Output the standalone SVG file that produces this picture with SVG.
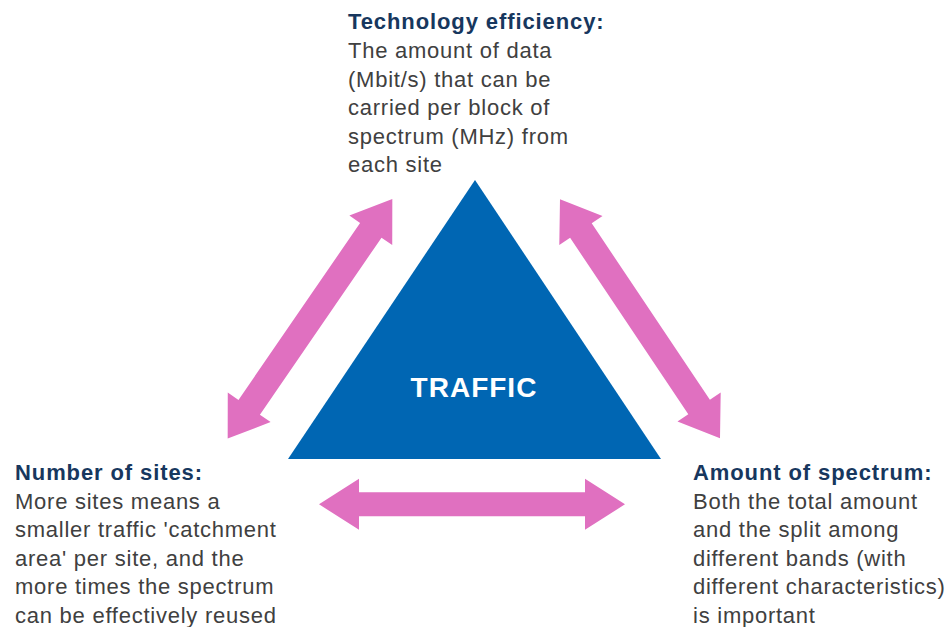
<svg xmlns="http://www.w3.org/2000/svg" width="948" height="627" viewBox="0 0 948 627">
<style>
.t{font-family:"Liberation Sans",Arial,sans-serif;font-size:22px;font-weight:bold;fill:#17375E;letter-spacing:0.9px}
.b{font-family:"Liberation Sans",Arial,sans-serif;font-size:22px;fill:#404040;letter-spacing:0.75px}
.arr{fill:#E070C0}
</style>
<defs>
<polygon id="dbl" points="-153,0 -113,-26 -113,-13 113,-13 113,-26 153,0 113,26 113,13 -113,13 -113,26"/>
<polygon id="dblh" points="-153,0 -113,-25.5 -113,-12 113,-12 113,-25.5 153,0 113,25.5 113,12 -113,12 -113,25.5"/>
</defs>
<rect width="948" height="627" fill="#FFFFFF"/>
<g id="traffic">
<polygon points="475,180 288,459 661,459" fill="#0066B3"/>
<text x="474" y="397" text-anchor="middle" font-family="Liberation Sans,Arial,sans-serif" font-size="28" font-weight="bold" fill="#FFFFFF" letter-spacing="1">TRAFFIC</text>
</g>
<g id="connectors">
<g transform="translate(310,318.8) rotate(-55.5) scale(0.95,1)"><use href="#dbl" class="arr"/></g>
<g transform="translate(640,318.8) rotate(56.2) scale(0.94,1)"><use href="#dbl" class="arr"/></g>
<g transform="translate(472,504.3)"><use href="#dblh" class="arr"/></g>
</g>
<g id="technology">
<text class="t" x="348" y="29">Technology efficiency:</text>
<text class="b" x="348" y="58">The amount of data</text>
<text class="b" x="348" y="86.6">(Mbit/s) that can be</text>
<text class="b" x="348" y="115.2">carried per block of</text>
<text class="b" x="348" y="143.8">spectrum (MHz) from</text>
<text class="b" x="348" y="172.4">each site</text>
</g>
<g id="sites">
<text class="t" x="15" y="480">Number of sites:</text>
<text class="b" x="15" y="508.6">More sites means a</text>
<text class="b" x="15" y="537.2">smaller traffic 'catchment</text>
<text class="b" x="15" y="565.8">area' per site, and the</text>
<text class="b" x="15" y="594.4">more times the spectrum</text>
<text class="b" x="15" y="623">can be effectively reused</text>
</g>
<g id="spectrum">
<text class="t" x="693" y="480">Amount of spectrum:</text>
<text class="b" x="693" y="508.6">Both the total amount</text>
<text class="b" x="693" y="537.2">and the split among</text>
<text class="b" x="693" y="565.8">different bands (with</text>
<text class="b" x="693" y="594.4">different characteristics)</text>
<text class="b" x="693" y="623">is important</text>
</g>
</svg>
